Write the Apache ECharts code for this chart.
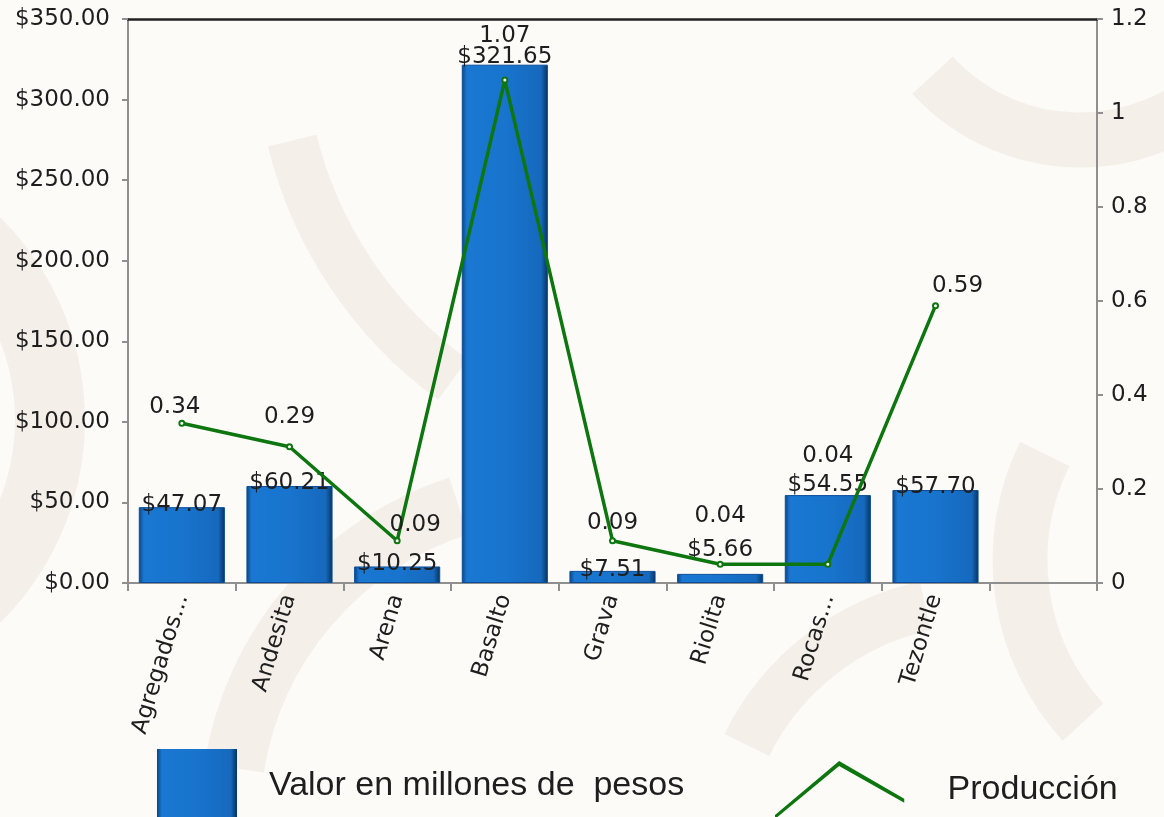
<!DOCTYPE html>
<html>
<head>
<meta charset="utf-8">
<script src="https://cdn.jsdelivr.net/npm/echarts@6/dist/echarts.min.js"></script>
<style>
  html, body { margin: 0; padding: 0; background: #fcfbf8; }
  #chart { width: 1164px; height: 817px; }
</style>
</head>
<body>
<div id="chart"></div>
<script>
const categories = ['Agregados...', 'Andesita', 'Arena', 'Basalto', 'Grava', 'Riolita', 'Rocas...', 'Tezontle', '']
const valor = [47.07, 60.21, 10.25, 321.65, 7.51, 5.66, 54.55, 57.70, null]
const produccion = [0.34, 0.29, 0.09, 1.07, 0.09, 0.04, 0.04, 0.59, null]
const leftTicks = [0, 350, 50]
const rightTicks = [0, 1.2, 0.2]

// label nudges, so they sit where the original put them
const prodLabelOffset = [[-7, 4], [0, -10], [18, 4], [0, -24], [0, 2], [0, -28], [0, -88], [22, 0], [0, 0]]
const valorLabelOffset = [[0, 0], [0, 0], [0, 0], [0, -5], [0, 2], [0, -21], [0, -8], [0, 0], [0, 0]]

const FONT = 'DejaVu Sans'
const TEXT = '#1e1e1e'

const barColor = new echarts.graphic.LinearGradient(0, 0, 1, 0, [
  { offset: 0, color: '#0b4385' },
  { offset: 0.06, color: '#1a78d2' },
  { offset: 0.5, color: '#1874cd' },
  { offset: 0.92, color: '#1669bd' },
  { offset: 1, color: '#07335f' }
])

const chart = echarts.init(document.getElementById('chart'))

// faint background swirls
const swirl = (cx, cy, r, a0, a1, w) => ({
  type: 'arc', z: -10, silent: true,
  shape: { cx: cx, cy: cy, r: r, startAngle: a0, endAngle: a1 },
  style: { stroke: '#f4f0e9', lineWidth: w, fill: null }
})

const option = {
  backgroundColor: '#fcfbf8',
  animation: false,
  graphic: [
    swirl(-200, 420, 250, -0.9, 0.9, 70),
    swirl(560, 820, 330, 3.3, 4.4, 60),
    swirl(700, 40, 420, 2.2, 2.9, 50),
    swirl(1080, -60, 200, 0.4, 2.4, 55),
    swirl(1260, 560, 240, 2.4, 3.6, 55),
    swirl(980, 860, 260, 3.6, 4.5, 50)
  ],
  grid: { left: 128, right: 67, top: 19, bottom: 234 },
  legend: [
    {
      left: 152, top: 744,
      itemWidth: 80, itemHeight: 74,
      data: [{ name: 'Valor en millones de  pesos', icon: 'rect' }],
      itemStyle: { borderWidth: 0 },
      textStyle: { fontFamily: 'Liberation Sans', fontSize: 34, color: TEXT, padding: [22, 0, 0, 27] }
    },
    {
      left: 770, top: 756,
      itemWidth: 134, itemHeight: 58,
      data: [{ name: 'Producción', icon: 'path://M0,53L63,0L127,37L127,41L63,5L0,57Z' }],
      itemStyle: { borderWidth: 0 },
      textStyle: { fontFamily: 'Liberation Sans', fontSize: 34, color: TEXT, padding: [14, 0, 0, 36] }
    }
  ],
  xAxis: [
    {
      type: 'category',
      data: categories,
      axisLine: { lineStyle: { color: '#8f8f8f', width: 2 } },
      axisTick: { show: true, length: 8, lineStyle: { color: '#8f8f8f', width: 2 } },
      axisLabel: { rotate: 73, interval: 0, margin: 12, fontFamily: FONT, fontSize: 23, color: TEXT }
    },
    {
      type: 'category',
      position: 'top',
      data: categories,
      axisLine: { onZero: false, lineStyle: { color: '#222222', width: 2.5 } },
      axisTick: { show: false },
      axisLabel: { show: false }
    }
  ],
  yAxis: [
    {
      type: 'value',
      min: leftTicks[0], max: leftTicks[1], interval: leftTicks[2],
      axisLine: { show: true, lineStyle: { color: '#8f8f8f', width: 2 } },
      axisTick: { show: true, length: 6, lineStyle: { color: '#8f8f8f', width: 2 } },
      splitLine: { show: false },
      axisLabel: {
        margin: 18, fontFamily: FONT, fontSize: 23, color: TEXT,
        formatter: v => '$' + v.toFixed(2)
      }
    },
    {
      type: 'value',
      min: rightTicks[0], max: rightTicks[1], interval: rightTicks[2],
      axisLine: { show: true, lineStyle: { color: '#8f8f8f', width: 2 } },
      axisTick: { show: true, length: 6, lineStyle: { color: '#8f8f8f', width: 2 } },
      splitLine: { show: false },
      axisLabel: {
        margin: 14, fontFamily: FONT, fontSize: 23, color: TEXT,
        formatter: v => String(Math.round(v * 10) / 10)
      }
    }
  ],
  series: [
    {
      name: 'Valor en millones de  pesos',
      type: 'bar',
      barWidth: '80%',
      data: valor.map((v, i) => ({
        value: v,
        label: { offset: valorLabelOffset[i] }
      })),
      itemStyle: { color: barColor, borderColor: '#0a4d99', borderWidth: 1 },
      label: {
        show: true, position: 'top', distance: -9,
        fontFamily: FONT, fontSize: 23, color: TEXT,
        formatter: p => p.value == null ? '' : '$' + p.value.toFixed(2)
      },
      z: 2
    },
    {
      name: 'Producción',
      type: 'line',
      yAxisIndex: 1,
      data: produccion.map((v, i) => ({
        value: v,
        label: { offset: prodLabelOffset[i] }
      })),
      lineStyle: { color: '#0d760f', width: 3.5 },
      itemStyle: { color: '#0d760f', borderColor: '#0d760f', borderWidth: 1.5 },
      symbol: 'emptyCircle',
      symbolSize: 5,
      label: {
        show: true, position: 'top',
        fontFamily: FONT, fontSize: 23, color: TEXT,
        formatter: p => p.value == null ? '' : p.value.toFixed(2)
      },
      z: 5
    }
  ]
}

chart.setOption(option)
</script>
</body>
</html>
